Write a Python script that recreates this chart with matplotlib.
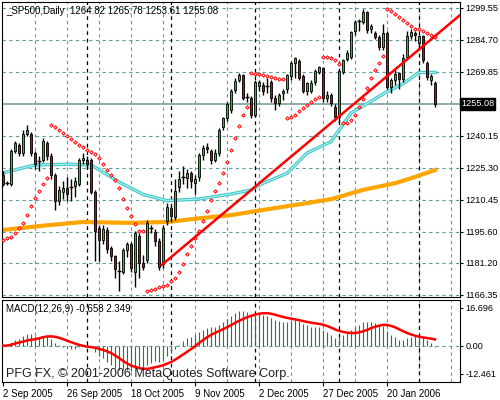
import matplotlib
matplotlib.use("Agg")
import matplotlib.pyplot as plt
import numpy as np

plt.rcParams["font.family"] = ["Liberation Sans", "DejaVu Sans"]

# ---- daily OHLC (bar index 0 = 2 Sep 2005) ----
opens = [1222, 1218, 1218, 1233, 1236, 1232, 1241, 1241, 1232, 1228, 1229, 1237, 1231, 1222, 1210, 1214,
         1216, 1216, 1217, 1218, 1229, 1229, 1229, 1214, 1197.3, 1192, 1196.5, 1188, 1184.4, 1177.2, 1177, 1187,
         1190, 1177, 1193.7, 1181.4, 1182.6, 1196.8, 1195.7, 1191.4, 1180.5, 1200.6, 1206.8, 1202.7, 1216.5, 1220.6,
         1220.5, 1222.8, 1218.5, 1221, 1231.3, 1235.2, 1233.3, 1229, 1232, 1244.5, 1248.3, 1252.2, 1261.5, 1266.1,
         1268.5, 1258, 1257.8, 1249.9, 1263.5, 1264, 1263, 1265, 1257.9, 1255.5, 1260, 1261.7, 1268, 1274, 1275,
         1268, 1261, 1261, 1265, 1270, 1271.6, 1257.6, 1259, 1253.7, 1249, 1270, 1276, 1277, 1288.7, 1293, 1293,
         1297.5, 1289.6, 1287.7, 1286, 1281.5, 1288, 1263, 1266, 1269.5, 1266.6, 1276.9, 1286.5, 1288, 1283.5,
         1286.5, 1274, 1266.3, 1264.82]
closes = [1218, 1218.3, 1233, 1237, 1232, 1241, 1243, 1232, 1227, 1228.4, 1238, 1231, 1222, 1210, 1215, 1216,
          1213, 1216.4, 1219, 1229, 1230, 1227, 1214, 1196, 1191.9, 1197, 1187.7, 1184.4, 1178.4, 1177.5, 1187.2, 1189.9,
          1178.9, 1195.2, 1181.4, 1179.5, 1199.7, 1197.2, 1191.6, 1179.3, 1197.4, 1207.2, 1203.2, 1214.8, 1220.2, 1221,
          1222.8, 1219, 1220, 1231.3, 1234.7, 1234, 1229, 1232.1, 1242.9, 1248.3, 1255, 1261.2, 1265.8, 1268.5,
          1257.9, 1258.3, 1249.9, 1265.3, 1265.2, 1261, 1263.3, 1257.7, 1255.5, 1259.3, 1261, 1268.3, 1274, 1276.5, 1267,
          1261, 1264.5, 1264.8, 1270.5, 1272, 1257.6, 1259, 1255.4, 1249, 1270.4, 1275.2, 1278.5, 1288.3, 1293, 1293.3,
          1297.6, 1289.3, 1291.3, 1286, 1281.5, 1288, 1262.8, 1266, 1269, 1266.5, 1276.5, 1286.4, 1288.4, 1287, 1286.7,
          1275.2, 1267.7, 1268, 1255.08]
highs = [1224, 1219, 1234, 1238, 1237, 1243, 1245, 1242, 1233, 1231, 1239, 1238, 1232, 1223, 1217, 1219,
         1221, 1220, 1221, 1230, 1232, 1231, 1230, 1215, 1199, 1199, 1198, 1189, 1185, 1182, 1188, 1191,
         1191, 1196, 1195, 1185, 1201, 1199, 1197, 1193, 1199, 1209, 1208, 1220, 1224, 1226,
         1225, 1224, 1222, 1232, 1236, 1237, 1234, 1234, 1244, 1249, 1256, 1262, 1267, 1269.5,
         1269, 1260, 1258.5, 1266, 1266, 1265, 1267, 1266, 1259, 1260, 1262, 1269, 1275, 1277, 1276,
         1269, 1265, 1266, 1271, 1272.5, 1272, 1261, 1260, 1255, 1271, 1276, 1280, 1289, 1294, 1294.5,
         1299, 1298, 1292, 1289, 1287, 1292, 1289, 1267, 1271, 1270, 1278, 1289, 1290, 1289, 1287,
         1287, 1275, 1269, 1265.78]
lows = [1217, 1217.5, 1217, 1232, 1231, 1231, 1240, 1231, 1225, 1224, 1228, 1229, 1220, 1206, 1208, 1211,
        1210, 1210, 1212, 1217, 1227, 1225, 1213, 1182, 1182, 1190, 1186, 1182, 1174, 1168, 1176, 1184,
        1177, 1170, 1174, 1178, 1181, 1195, 1189, 1178, 1179, 1199, 1200, 1201, 1214, 1218,
        1216, 1216, 1213, 1219, 1229, 1232, 1227, 1228, 1231, 1243, 1247, 1251, 1260, 1265,
        1257, 1256, 1248.5, 1249, 1261, 1259, 1260, 1256, 1252, 1254, 1257, 1260, 1266, 1267, 1266,
        1260, 1259, 1260, 1264, 1269, 1256, 1256, 1254, 1247, 1246, 1269, 1275, 1276, 1287, 1289,
        1292, 1288, 1288, 1285, 1280, 1280, 1262, 1260, 1264, 1262, 1265, 1276, 1285, 1284, 1280,
        1274, 1266, 1264, 1253.61]

# moving averages read at a few bars
fast_ma_idx = [0, 8, 16, 22, 29, 35, 41, 49, 57, 62, 64, 71, 76, 82, 87, 90, 96, 100, 104, 108]
fast_ma_val = [1223, 1226.7, 1227, 1226.7, 1218.8, 1213, 1210.1, 1210.9, 1213.2, 1215, 1217.4, 1222.8,
               1232.2, 1237.5, 1250.8, 1254, 1260.7, 1264.3, 1269.6, 1269.6]
slow_ma_idx = [0, 10, 20, 32, 41, 49, 57, 65, 73, 82, 90, 98, 102, 108]
slow_ma_val = [1196.5, 1198.5, 1200.2, 1199.8, 1200.2, 1201.9, 1203.4, 1205.8, 1208.1, 1210.8, 1215.1,
               1218.2, 1220.5, 1224.3]
trend_idx = [39.7, 114.3]
trend_val = [1180.3, 1296.3]

date_ticks = [0, 16, 32, 48, 64, 80, 96]
date_labels = ["2 Sep 2005", "26 Sep 2005", "18 Oct 2005", "9 Nov 2005", "2 Dec 2005",
               "27 Dec 2005", "20 Jan 2006"]
month_breaks = [21, 42, 63, 84, 104]
price_ticks = [1299.55, 1284.70, 1269.85, 1240.15, 1225.30, 1210.45, 1195.60, 1181.20, 1166.35]
macd_ticks = [16.696, 0.0, -12.461]
macd_last, signal_last = -0.658, 2.349

o = np.array(opens); c = np.array(closes); h = np.array(highs); l = np.array(lows)
n = len(c)
x = np.arange(n)


def ema(v, span):
    a = 2.0 / (span + 1)
    out = np.empty_like(v)
    out[0] = v[0]
    for i in range(1, len(v)):
        out[i] = a * v[i] + (1 - a) * out[i - 1]
    return out


def psar(hi, lo, step=0.02, mx=0.2):
    sar = np.empty(len(hi))
    up, af, ep = True, step, hi[0]
    sar[0] = lo[0] - 25
    for i in range(1, len(hi)):
        s = sar[i - 1] + af * (ep - sar[i - 1])
        if up:
            s = min(s, lo[i - 1], lo[max(i - 2, 0)])
            if lo[i] < s:
                up, s, ep, af = False, ep, lo[i], step
            elif hi[i] > ep:
                ep, af = hi[i], min(af + step, mx)
        else:
            s = max(s, hi[i - 1], hi[max(i - 2, 0)])
            if hi[i] > s:
                up, s, ep, af = True, ep, hi[i], step
            elif lo[i] < ep:
                ep, af = lo[i], min(af + step, mx)
        sar[i] = s
    return sar


macd = ema(c, 12) - ema(c, 26)
signal = np.array([macd[max(0, i - 8):i + 1].mean() for i in range(n)])
sar = psar(h, l)

GRID = "#5f9c9c"
fig = plt.figure(figsize=(5, 4), dpi=100)
ax = fig.add_axes([0.004, 0.2575, 0.916, 0.7375])
axm = fig.add_axes([0.004, 0.045, 0.916, 0.205])
xl = (-0.25, 114.25)

# ---- main price panel ----
for xv in range(8, 115, 8):
    ax.axvline(xv, color=GRID, lw=0.8, ls=(0, (3, 3)), zorder=0)
    axm.axvline(xv, color=GRID, lw=0.8, ls=(0, (3, 3)), zorder=0)
for yv in price_ticks:
    ax.axhline(yv, color=GRID, lw=0.8, ls=(0, (3, 3)), zorder=0)
for mb in month_breaks:
    ax.axvline(mb, color="black", lw=0.9, ls=(0, (3, 3)), zorder=1)
    axm.axvline(mb, color="black", lw=0.9, ls=(0, (3, 3)), zorder=1)
ax.axhline(c[-1], color="#7a9e9e", lw=1.2, zorder=1)

ax.plot(slow_ma_idx, slow_ma_val, color="#ffa500", lw=3, zorder=2)
ax.plot(fast_ma_idx, fast_ma_val, color="#40c8c8", lw=2.4, zorder=2)
ax.plot(fast_ma_idx, fast_ma_val, color="#b0f0f0", lw=0.8, zorder=2)

ax.vlines(x, l, h, color="black", lw=1, zorder=3)
up = c >= o
body = np.abs(c - o)
dojis = body < 0.6
ax.bar(x[up & ~dojis], (c - o)[up & ~dojis], bottom=o[up & ~dojis], width=0.7,
       color="#00e000", edgecolor="black", lw=0.6, zorder=4)
ax.bar(x[~up & ~dojis], (o - c)[~up & ~dojis], bottom=c[~up & ~dojis], width=0.7,
       color="#e00000", edgecolor="black", lw=0.6, zorder=4)
ax.hlines(c[dojis], x[dojis] - 0.4, x[dojis] + 0.4, color="black", lw=1, zorder=4)

ax.scatter(x, sar, s=3, marker="D", facecolor="white", edgecolor="red", lw=0.7, zorder=5)
ax.plot(trend_idx, trend_val, color="red", lw=1.8, zorder=6)

ax.set_xlim(xl)
ax.set_ylim(1165.4, 1302.3)
ax.set_xticks([])
ax.yaxis.tick_right()
ax.set_yticks(price_ticks)
ax.set_yticklabels([f"{v:.2f}" for v in price_ticks], fontsize=6.6)
ax.tick_params(axis="y", length=2.5, pad=1.5)
ax.text(1.002, (c[-1] - 1165.4) / (1302.3 - 1165.4), f"{c[-1]:.2f}", transform=ax.transAxes,
        fontsize=6.6, color="white", va="center", ha="left",
        bbox=dict(boxstyle="square,pad=0.15", fc="black", ec="black"))
ax.text(0.008, 0.985, "_SP500,Daily  1264.82 1265.78 1253.61 1255.08", transform=ax.transAxes,
        fontsize=7, va="top", ha="left")

# ---- MACD panel ----
axm.axhline(0, color=GRID, lw=0.8, ls=(0, (3, 3)), zorder=0)
axm.vlines(x, 0, macd, color="#2a7a2a", lw=0.8, zorder=2)
axm.plot(x, signal, color="red", lw=1.8, zorder=3)
axm.set_xlim(xl)
axm.set_ylim(-15.98, 20.08)
axm.yaxis.tick_right()
axm.set_yticks(macd_ticks)
axm.set_yticklabels(["16.696", "0.00", "-12.461"], fontsize=6.6)
axm.tick_params(axis="y", length=2.5, pad=1.5)
axm.set_xticks(date_ticks)
axm.set_xticklabels(date_labels, fontsize=7, ha="left")
axm.tick_params(axis="x", length=3, pad=2)
axm.text(0.008, 0.95, f"MACD(12,26,9) {macd_last:.3f} {signal_last:.3f}", transform=axm.transAxes,
         fontsize=7, va="top", ha="left")
axm.text(0.008, 0.02, "PFG FX, \u00a9 2001-2006 MetaQuotes Software Corp.", transform=axm.transAxes,
         fontsize=9, va="bottom", ha="left", color="#202020")

fig.savefig("out.png", dpi=100)
